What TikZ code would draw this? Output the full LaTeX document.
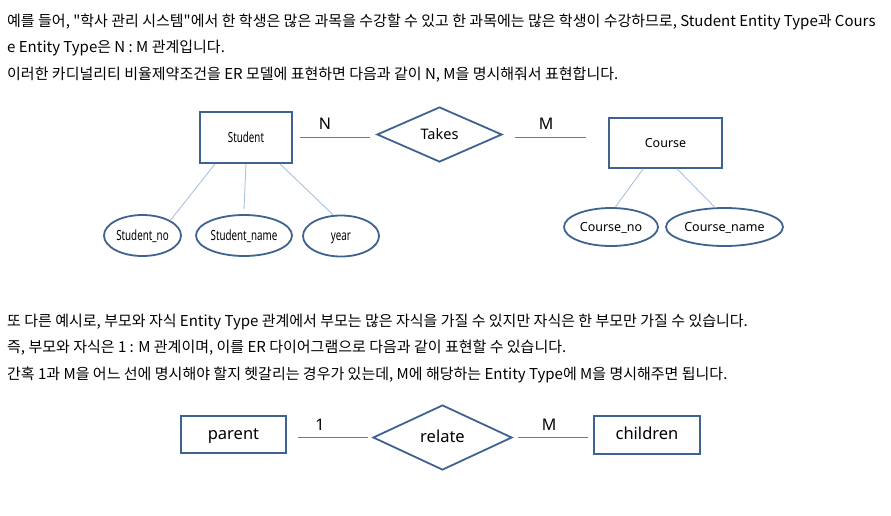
\documentclass[tikz,border=0pt]{standalone}
\usepackage{fontspec}
\setmainfont{Noto Sans CJK KR}[Ligatures=TeXOff]
\newfontfamily\diag{Noto Sans}
\newfontfamily\diagc[FakeStretch=0.7]{Noto Sans}
\usetikzlibrary{shapes.geometric}
\definecolor{shapeblue}{HTML}{3E6391}
\definecolor{relblue}{HTML}{4F81BD}
\definecolor{attblue}{HTML}{A9C1DF}
\tikzset{
  body/.style={anchor=west, inner sep=0pt, font=\fontsize{15}{18}\selectfont},
  dtext/.style={text height=0.9em, text depth=0pt},
  ent/.style={draw=shapeblue, line width=1.8pt, inner sep=0pt, dtext},
  attr/.style={ellipse, draw=shapeblue, line width=1.8pt, inner sep=0pt, dtext},
  relshape/.style={diamond, draw=shapeblue, line width=1.8pt, inner sep=0pt, dtext},
  rel/.style={draw=relblue, line width=0.9pt},
  att/.style={draw=attblue, line width=0.9pt},
  card/.style={inner sep=0pt, font=\diag\fontsize{16}{18}\selectfont}
}
\begin{document}
\begin{tikzpicture}[x=1pt,y=-1pt]
\useasboundingbox (0,0) rectangle (891,515);
% text block 1
\node[body] (t1) at (7,22) {예를 들어, "학사 관리 시스템"에서 한 학생은 많은 과목을 수강할 수 있고 한 과목에는 많은 학생이 수강하므로, Student Entity Type과 Cours};
\node[body] (t2) at (7,48) {e Entity Type은 N : M 관계입니다.};
\node[body] (t3) at (7,75) {이러한 카디널리티 비율제약조건을 ER 모델에 표현하면 다음과 같이 N, M을 명시해줘서 표현합니다.};
% diagram 1
\node[ent, minimum width=92pt, minimum height=51pt, font=\diagc\fontsize{14}{16}\selectfont] (st) at (246,137.5) {Student};
\node[relshape, minimum width=125pt, minimum height=55pt, font=\diag\fontsize{14.5}{16}\selectfont] (tk) at (439.5,134.5) {Takes};
\node[ent, minimum width=113pt, minimum height=50pt, font=\diag\fontsize{12.5}{14}\selectfont] (co) at (665.5,143) {Course};
\node[attr, minimum width=77pt, minimum height=41pt, font=\diagc\fontsize{14}{16}\selectfont] (sno) at (142.5,235.5) {Student\_no};
\node[attr, minimum width=96pt, minimum height=41pt, font=\diagc\fontsize{14}{16}\selectfont] (sna) at (244,235.5) {Student\_name};
\node[attr, minimum width=76pt, minimum height=41pt, font=\diagc\fontsize{14}{16}\selectfont] (yr) at (341,236) {year};
\node[attr, minimum width=94pt, minimum height=38pt, font=\diag\fontsize{12.5}{14}\selectfont] (cn) at (611,227) {Course\_no};
\node[attr, minimum width=117pt, minimum height=38pt, font=\diag\fontsize{12.5}{14}\selectfont] (cna) at (724.5,227) {Course\_name};
\coordinate (l1) at ([xshift=7pt]st.east);
\coordinate (l2) at ([xshift=-6pt]st.east -| tk.west);
\coordinate (l3) at ([xshift=12pt]st.east -| tk.east);
\coordinate (l4) at ([xshift=-22pt]st.east -| co.west);
\draw[rel] (l1) -- (l2);
\draw[rel] (l3) -- (l4);
\node[card] (n1) at (325,124) {N};
\node[card] (m1) at (546,124) {M};
\draw[att] ([xshift=16pt]st.south west) -- (sno.north east);
\draw[att] (st.south) -- ([yshift=5pt]sna.north);
\draw[att] ([xshift=-13pt]st.south east) -- (yr.110);
\draw[att] ([xshift=35pt]co.south west) -- (cn.78);
\draw[att] ([xshift=69pt]co.south west) -- (cna.116);
% text block 2
\node[body] (t4) at (7,322) {또 다른 예시로, 부모와 자식 Entity Type 관계에서 부모는 많은 자식을 가질 수 있지만 자식은 한 부모만 가질 수 있습니다.};
\node[body] (t5) at (7,348) {즉, 부모와 자식은 1 : M 관계이며, 이를 ER 다이어그램으로 다음과 같이 표현할 수 있습니다.};
\node[body] (t6) at (7,375) {간혹 1과 M을 어느 선에 명시해야 할지 헷갈리는 경우가 있는데, M에 해당하는 Entity Type에 M을 명시해주면 됩니다.};
% diagram 2
\node[ent, minimum width=105pt, minimum height=37pt, font=\diag\fontsize{16.5}{18}\selectfont] (pa) at (233.5,434.5) {parent};
\node[relshape, minimum width=139pt, minimum height=65pt, font=\diag\fontsize{16.5}{18}\selectfont] (re) at (442.5,437.5) {relate};
\node[ent, minimum width=106pt, minimum height=38pt, font=\diag\fontsize{16.5}{18}\selectfont] (ch) at (647,435) {children};
\coordinate (p1) at ([xshift=11pt]pa.east |- re.west);
\coordinate (p2) at ([xshift=-4pt]re.west);
\coordinate (p3) at ([xshift=5pt]re.east);
\coordinate (p4) at ([xshift=-5pt]ch.west |- re.east);
\draw[rel] (p1) -- (p2);
\draw[rel] (p3) -- (p4);
\node[card] (one) at (320,425) {1};
\node[card] (m2) at (549,425) {M};
\end{tikzpicture}
\end{document}
